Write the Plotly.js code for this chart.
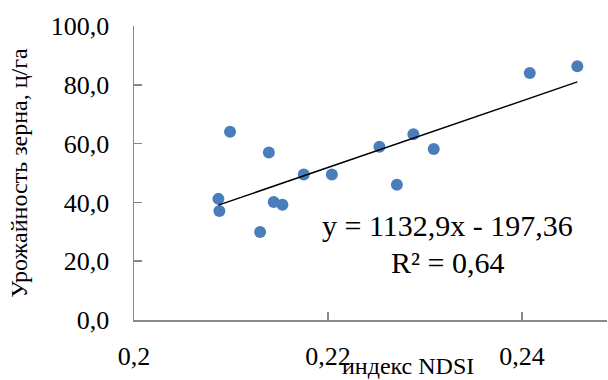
<!DOCTYPE html>
<html>
<head>
<meta charset="utf-8">
<script src="https://cdn.plot.ly/plotly-3.0.1.min.js"></script>
<style>html,body{margin:0;padding:0;background:#fff;}#chart{width:608px;height:380px;}</style>
</head>
<body>
<div id="chart"></div>
<script>
var ndsi = [0.2087, 0.2088, 0.2099, 0.2130, 0.2139, 0.2144, 0.2153, 0.2175, 0.2204, 0.2253, 0.2271, 0.2288, 0.2309, 0.2408, 0.2457];
var yieldVals = [41.2, 37.1, 64.0, 29.9, 57.0, 40.1, 39.2, 49.5, 49.5, 58.9, 46.0, 63.2, 58.2, 84.0, 86.3];
var slope = 1132.9;
var intercept = -197.36;
var rSquared = "0,64";
var xTitle = "индекс NDSI";
var yTitle = "Урожайность зерна, ц/га";
var eqText = "y = 1132,9x - 197,36";
var r2Text = "R² = " + rSquared;

var xmin = Math.min.apply(null, ndsi);
var xmax = Math.max.apply(null, ndsi);
var trendX = [xmin, xmax];
var trendY = trendX.map(function (x) { return slope * x + intercept; });

var axisColor = "#898989";
var font = "Liberation Serif";

var traces = [
  {
    x: ndsi, y: yieldVals, type: "scatter", mode: "markers",
    marker: { color: "#4A7EBB", size: 12 },
    hoverinfo: "skip", showlegend: false
  },
  {
    x: trendX, y: trendY, type: "scatter", mode: "lines",
    line: { color: "#000000", width: 1.5 },
    hoverinfo: "skip", showlegend: false
  }
];

var layout = {
  width: 608, height: 380,
  margin: { l: 134, r: 1, t: 26, b: 60 },
  paper_bgcolor: "#ffffff", plot_bgcolor: "#ffffff",
  separators: ", ",
  font: { family: font, color: "#000000", size: 26 },
  showlegend: false,
  xaxis: {
    range: [0.2, 0.24876], tick0: 0.2, dtick: 0.02, tickformat: ".2~f",
    showgrid: false, zeroline: false,
    showline: true, linecolor: axisColor, linewidth: 1.5,
    ticks: "inside", ticklen: 8, tickwidth: 1.5, tickcolor: axisColor,
    ticklabelstandoff: 12,
    tickfont: { family: font, size: 26, color: "#000" },
    fixedrange: true
  },
  yaxis: {
    range: [0, 100], tick0: 0, dtick: 20, tickformat: ".1f",
    showgrid: false, zeroline: false,
    showline: true, linecolor: axisColor, linewidth: 1.5,
    ticks: "inside", ticklen: 8, tickwidth: 1.5, tickcolor: axisColor,
    ticklabelstandoff: 18,
    tickfont: { family: font, size: 26, color: "#000" },
    title: { text: yTitle, font: { family: font, size: 24, color: "#000" }, standoff: 16 },
    fixedrange: true
  },
  annotations: [
    { xref: "paper", yref: "paper", x: 0.663, y: 0.323, xanchor: "center", yanchor: "middle",
      text: eqText, showarrow: false, font: { family: font, size: 30, color: "#000" } },
    { xref: "paper", yref: "paper", x: 0.663, y: 0.197, xanchor: "center", yanchor: "middle",
      text: r2Text, showarrow: false, font: { family: font, size: 30, color: "#000" } },
    { xref: "paper", yref: "paper", x: 0.579, y: -0.155, xanchor: "center", yanchor: "middle",
      text: xTitle, showarrow: false, font: { family: font, size: 24, color: "#000" } }
  ]
};

Plotly.newPlot("chart", traces, layout, { staticPlot: true, displayModeBar: false });
</script>
</body>
</html>
